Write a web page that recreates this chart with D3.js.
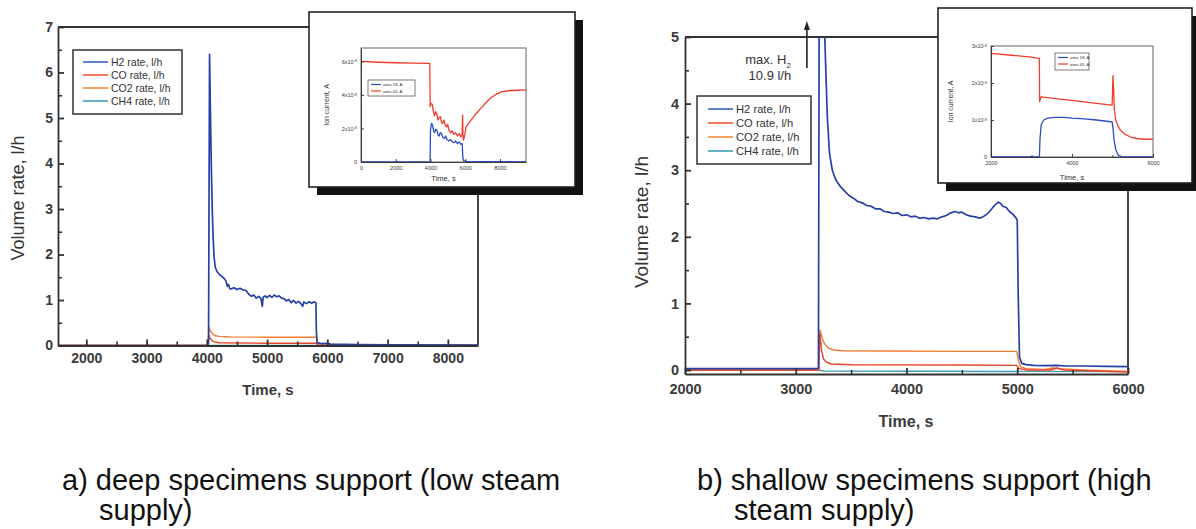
<!DOCTYPE html>
<html>
<head>
<meta charset="utf-8">
<script src="https://cdn.jsdelivr.net/npm/d3@7"></script>
<style>
  body { margin: 0; background: #fff; }
  svg { display: block; font-family: "Liberation Sans", Arial, sans-serif; }
</style>
</head>
<body>
<svg id="fig" width="1196" height="529"></svg>
<script>
// ---------------- data ----------------
// Gas release rates, l/h, versus time, s  (pairs: [time, rate])
const seriesNames  = ["H2 rate, l/h", "CO rate, l/h", "CO2 rate, l/h", "CH4 rate, l/h"];
const seriesColors = ["#2641a6", "#e8432b", "#f17d34", "#3c9fb4"];
const legendColors = ["#3d62c6", "#ee5a34", "#f28a3e", "#3ea3b2"];

// a) deep specimens support
const h2A = [[1530,0],[4000,0],[4028,0.05],[4045,6.4],[4060,5.1],[4075,3.9],[4090,3.0],[4105,2.35],[4120,1.95],[4140,1.72],
  [4170,1.62],[4210,1.56],[4250,1.52],[4290,1.47],[4320,1.41],[4340,1.30],[4360,1.34],[4380,1.25],[4400,1.24],[4450,1.27],
  [4500,1.23],[4550,1.26],[4600,1.22],[4650,1.21],[4700,1.12],[4740,1.08],[4780,1.11],[4820,1.04],[4860,1.08],[4900,1.03],
  [4920,0.86],[4935,1.06],[4970,1.09],[5000,1.05],[5040,1.10],[5080,1.06],[5120,1.11],[5160,1.07],[5200,1.09],[5240,1.04],
  [5280,1.03],[5320,0.98],[5360,1.01],[5400,0.94],[5440,0.99],[5480,0.93],[5520,0.97],[5560,0.92],[5590,0.86],[5610,0.96],
  [5650,0.92],[5700,0.96],[5740,0.93],[5780,0.96],[5810,0.94],[5818,0.30],[5830,0.06],[5900,0.04],[6000,0.05],[6050,0.03],
  [6500,0.02],[7000,0.015],[8500,0.01]];
const coA  = [[1530,0],[4020,0],[4035,0.22],[4060,0.15],[4100,0.09],[4200,0.06],[5000,0.05],[5820,0.05],[5840,0.01],[8500,0]];
const co2A = [[1530,0],[4020,0],[4035,0.40],[4060,0.32],[4090,0.26],[4130,0.22],[4200,0.20],[4400,0.19],[5000,0.18],
  [5820,0.18],[5835,0.06],[5900,0.03],[6200,0.02],[8500,0.0]];
const ch4A = [[1530,0],[8500,0]];

// b) shallow specimens support
const h2B = [[2000,0.02],[3190,0.02],[3205,0.03],[3218,10.9],[3240,7.4],[3262,5.0],[3285,3.8],[3305,3.25],[3330,3.0],
  [3360,2.86],[3400,2.76],[3440,2.69],[3480,2.62],[3520,2.58],[3560,2.53],[3600,2.51],[3640,2.47],[3680,2.46],[3720,2.42],
  [3760,2.42],[3800,2.38],[3840,2.37],[3880,2.35],[3920,2.36],[3960,2.32],[4000,2.33],[4040,2.30],[4080,2.31],[4120,2.28],
  [4160,2.29],[4200,2.27],[4240,2.28],[4280,2.27],[4320,2.30],[4360,2.32],[4400,2.36],[4440,2.38],[4470,2.36],[4500,2.37],
  [4540,2.33],[4580,2.31],[4620,2.30],[4660,2.28],[4700,2.31],[4740,2.36],[4770,2.42],[4800,2.48],[4830,2.52],[4850,2.50],
  [4870,2.46],[4900,2.44],[4930,2.38],[4960,2.34],[4990,2.28],[5000,2.25],[5008,1.2],[5020,0.2],[5040,0.10],[5080,0.08],
  [5150,0.07],[5250,0.065],[5350,0.07],[5450,0.06],[5600,0.06],[5800,0.055],[6000,0.05]];
const coB  = [[2000,0],[3208,0],[3218,0.55],[3232,0.30],[3250,0.17],[3275,0.12],[3320,0.09],[3500,0.08],[4500,0.075],
  [4995,0.07],[5015,0.02],[5100,0.0],[5300,0.0],[5360,0.03],[5420,0.0],[5800,-0.02],[6000,-0.03]];
const co2B = [[2000,0],[3208,0],[3218,0.60],[3240,0.47],[3265,0.38],[3295,0.33],[3340,0.30],[3420,0.29],[3800,0.285],
  [4500,0.28],[4995,0.28],[5010,0.15],[5030,0.05],[5080,0.02],[5250,0.01],[5320,0.03],[5380,0.02],[5600,0.0],[6000,-0.02]];
const ch4B = [[2000,0],[3200,0],[3260,-0.015],[6000,-0.025]];
const h2BPeakLabel = ["max. H", "2", "l/h"];

// Mass-spectrometer ion currents (units of 1e-8 A), pairs: [time, current]
const insetNames  = ["amu 18, A", "amu 40, A"];
const insetColors = ["#2b4fc2", "#f03c2c"];
const amu18A = [[0,0],[3980,0],[4000,1.9],[4060,2.3],[4120,2.2],[4180,1.85],[4240,1.75],[4300,1.95],[4370,1.9],[4440,1.6],
  [4500,1.55],[4560,1.75],[4640,1.7],[4720,1.45],[4800,1.4],[4870,1.55],[4950,1.35],[5050,1.25],[5150,1.35],[5250,1.2],
  [5350,1.15],[5450,1.25],[5550,1.1],[5650,1.2],[5750,1.05],[5830,1.1],[5860,0.3],[5900,0.08],[6100,0.03],[7000,0.02],[9500,0.01]];
const amu40A = [[0,6.0],[1000,5.95],[2000,5.92],[3000,5.9],[3960,5.88],[3985,3.3],[4030,3.5],[4100,3.45],[4170,3.0],
  [4230,2.75],[4300,3.0],[4370,2.85],[4430,2.5],[4500,2.65],[4570,2.7],[4640,2.35],[4700,2.3],[4780,2.5],[4850,2.2],
  [4920,2.1],[4990,2.25],[5060,1.9],[5150,1.75],[5250,1.85],[5350,1.65],[5450,1.75],[5550,1.55],[5650,1.7],[5750,1.5],
  [5820,1.6],[5850,2.8],[5870,1.6],[5900,1.3],[5960,1.55],[6050,2.1],[6300,2.45],[6600,2.85],[6900,3.2],[7200,3.55],
  [7500,3.85],[7800,4.05],[8100,4.2],[8500,4.25],[9000,4.28],[9500,4.3]];
const amu18B = [[2000,0],[3195,0],[3210,0.5],[3240,0.88],[3300,1.0],[3400,1.05],[3600,1.07],[3800,1.07],[4000,1.05],
  [4300,1.03],[4600,1.0],[4900,0.96],[4990,0.95],[5010,0.8],[5040,0.45],[5080,0.2],[5140,0.05],[5250,0],[6000,0]];
const amu40B = [[2000,2.8],[2500,2.75],[3000,2.7],[3195,2.66],[3200,1.5],[3215,1.55],[3240,1.63],[3300,1.62],[3600,1.58],
  [4000,1.53],[4500,1.46],[4990,1.4],[5000,1.7],[5010,2.2],[5025,1.9],[5045,1.3],[5080,1.0],[5130,0.85],[5200,0.72],
  [5300,0.62],[5450,0.54],[5600,0.5],[5800,0.48],[6000,0.48]];

// tick values
const xMajorA = [2000,3000,4000,5000,6000,7000,8000];
const xMinorA = [2500,3500,4500,5500,6500,7500];
const yMajorA = [0,1,2,3,4,5,6,7];
const yMinorA = [0.5,1.5,2.5,3.5,4.5,5.5,6.5];
const xMajorB = [2000,3000,4000,5000,6000];
const xMinorB = [2500,3500,4500,5500];
const yMajorB = [0,1,2,3,4,5];
const yMinorB = [0.5,1.5,2.5,3.5,4.5];
const insetXTicksA = [0,2000,4000,6000,8000];
const insetYTicksA = [0,2,4,6];
const insetXTicksB = [2000,4000,6000];
const insetXMinorB = [3000,5000];
const insetYTicksB = [0,1,2,3];

const captionA = ["a) deep specimens support (low steam", "supply)"];
const captionB = ["b) shallow specimens support (high", "steam supply)"];

// ---------------- drawing ----------------
const INK = "#333";
const fig = d3.select("#fig");
fig.append("rect").attr("width", 1196).attr("height", 529).attr("fill", "#fff");

function styleAxis(sel, width, fontSize, weight) {
  sel.selectAll("path, line").attr("stroke", INK).attr("stroke-width", width);
  sel.selectAll("text").attr("fill", "#3a3a3a").attr("font-size", fontSize)
     .attr("font-weight", weight).attr("font-family", "'Liberation Sans', Arial, sans-serif");
}

function mainPanel(cfg) {
  const g = fig.append("g");
  const x = d3.scaleLinear().domain(cfg.xDomain).range(cfg.xRange);
  const y = d3.scaleLinear().domain(cfg.yDomain).range(cfg.yRange);
  const [xl, xr] = cfg.xRange, [yb, yt] = cfg.yRange;

  // top and right frame
  g.append("path").attr("d", `M${xl},${yt}H${xr}V${yb}`)
    .attr("fill", "none").attr("stroke", INK).attr("stroke-width", 1.8);

  // curves
  const clipId = cfg.id + "-clip";
  g.append("clipPath").attr("id", clipId).append("rect")
    .attr("x", xl).attr("y", yt).attr("width", xr - xl).attr("height", yb - yt);
  const line = d3.line().x(d => x(d[0])).y(d => y(d[1]));
  const curves = g.append("g").attr("clip-path", `url(#${clipId})`);
  cfg.series.slice().reverse().forEach(s => {
    curves.append("path").datum(s.data).attr("d", line)
      .attr("fill", "none").attr("stroke", s.color).attr("stroke-width", s.width)
      .attr("stroke-linejoin", "round");
  });

  // axes with inward ticks
  const ax = g.append("g").attr("transform", `translate(0,${yb})`)
    .call(d3.axisBottom(x).tickValues(cfg.xMajor).tickSize(-6).tickSizeOuter(0)
      .tickPadding(cfg.xPad).tickFormat(d3.format("d")));
  styleAxis(ax, 1.8, cfg.tickFont, "bold");
  const axm = g.append("g").attr("transform", `translate(0,${yb})`)
    .call(d3.axisBottom(x).tickValues(cfg.xMinor).tickSize(-4).tickSizeOuter(0).tickFormat(""));
  axm.select(".domain").remove();
  styleAxis(axm, 1.6, cfg.tickFont, "bold");

  const ay = g.append("g").attr("transform", `translate(${xl},0)`)
    .call(d3.axisLeft(y).tickValues(cfg.yMajor).tickSize(-6).tickSizeOuter(0)
      .tickPadding(cfg.yPad).tickFormat(d3.format("d")));
  styleAxis(ay, 1.8, cfg.tickFont, "bold");
  const aym = g.append("g").attr("transform", `translate(${xl},0)`)
    .call(d3.axisLeft(y).tickValues(cfg.yMinor).tickSize(-4).tickSizeOuter(0).tickFormat(""));
  aym.select(".domain").remove();
  styleAxis(aym, 1.6, cfg.tickFont, "bold");

  // axis titles
  g.append("text").attr("x", cfg.xTitle[0]).attr("y", cfg.xTitle[1])
    .attr("text-anchor", "middle").attr("font-size", cfg.xTitleFont).attr("font-weight", "bold")
    .attr("fill", "#3a3a3a").text("Time, s");
  g.append("text").attr("transform", `translate(${cfg.yTitle[0]},${cfg.yTitle[1]}) rotate(-90)`)
    .attr("text-anchor", "middle").attr("font-size", cfg.yTitleFont)
    .attr("fill", "#333").text("Volume rate, l/h");

  // legend
  const L = cfg.legend;
  const lg = g.append("g");
  lg.append("rect").attr("x", L.x).attr("y", L.y).attr("width", L.w).attr("height", L.h)
    .attr("fill", "#fff").attr("stroke", INK).attr("stroke-width", 1.5);
  cfg.series.forEach((s, i) => {
    const yy = L.y + L.first + i * L.step;
    lg.append("line").attr("x1", L.x + L.pad).attr("x2", L.x + L.pad + L.len)
      .attr("y1", yy).attr("y2", yy).attr("stroke", s.legendColor).attr("stroke-width", 1.6);
    lg.append("text").attr("x", L.x + L.pad + L.len + 3).attr("y", yy).attr("dy", "0.35em")
      .attr("font-size", L.font).attr("fill", "#333").text(s.name);
  });
  return { g, x, y };
}

function inset(cfg) {
  const g = fig.append("g");
  const b = cfg.box;
  // drop shadow and card
  g.append("rect").attr("x", b.x + 8).attr("y", b.y + 8).attr("width", b.w).attr("height", b.h).attr("fill", "#111");
  g.append("rect").attr("x", b.x).attr("y", b.y).attr("width", b.w).attr("height", b.h)
    .attr("fill", "#fff").attr("stroke", "#222").attr("stroke-width", 1.6);

  const x = d3.scaleLinear().domain(cfg.xDomain).range(cfg.xRange);
  const y = d3.scaleLinear().domain(cfg.yDomain).range(cfg.yRange);
  const [xl, xr] = cfg.xRange, [yb, yt] = cfg.yRange;
  g.append("rect").attr("x", xl).attr("y", yt).attr("width", xr - xl).attr("height", yb - yt)
    .attr("fill", "none").attr("stroke", "#555").attr("stroke-width", 0.9);

  const line = d3.line().x(d => x(d[0])).y(d => y(d[1]));
  cfg.series.forEach(s => {
    g.append("path").datum(s.data).attr("d", line).attr("fill", "none")
      .attr("stroke", s.color).attr("stroke-width", 1.3).attr("stroke-linejoin", "round");
  });

  const ax = g.append("g").attr("transform", `translate(0,${yb})`)
    .call(d3.axisBottom(x).tickValues(cfg.xTicks).tickSize(-3).tickSizeOuter(0).tickPadding(4).tickFormat(d3.format("d")));
  styleAxis(ax, 0.9, 5.5, "normal");
  if (cfg.xMinor) {
    const axm = g.append("g").attr("transform", `translate(0,${yb})`)
      .call(d3.axisBottom(x).tickValues(cfg.xMinor).tickSize(-2).tickSizeOuter(0).tickFormat(""));
    axm.select(".domain").remove();
    styleAxis(axm, 0.9, 5.5, "normal");
  }
  const ay = g.append("g").attr("transform", `translate(${xl},0)`)
    .call(d3.axisLeft(y).tickValues(cfg.yTicks).tickSize(-3).tickSizeOuter(0).tickPadding(3).tickFormat(""));
  styleAxis(ay, 0.9, 5.5, "normal");
  ay.selectAll(".tick").each(function(d) {
    const t = d3.select(this).append("text").attr("x", -4).attr("dy", "0.32em")
      .attr("text-anchor", "end").attr("font-size", 5.5).attr("fill", "#3a3a3a");
    if (d === 0) { t.text("0"); return; }
    t.append("tspan").text(d + "x10");
    t.append("tspan").attr("dy", "-0.45em").attr("font-size", 3.8).text("-8");
  });

  g.append("text").attr("x", (xl + xr) / 2).attr("y", cfg.xTitleY).attr("text-anchor", "middle")
    .attr("font-size", 7.5).attr("fill", "#333").text("Time, s");
  g.append("text").attr("transform", `translate(${cfg.yTitleX},${(yb + yt) / 2}) rotate(-90)`)
    .attr("text-anchor", "middle").attr("font-size", 7).attr("fill", "#333").text("Ion current, A");

  const L = cfg.legend;
  g.append("rect").attr("x", L.x).attr("y", L.y).attr("width", L.w).attr("height", L.h)
    .attr("fill", "#fff").attr("stroke", "#444").attr("stroke-width", 0.7);
  cfg.series.forEach((s, i) => {
    const yy = L.y + 4.5 + i * 6.5;
    g.append("line").attr("x1", L.x + 3).attr("x2", L.x + 13).attr("y1", yy).attr("y2", yy)
      .attr("stroke", s.color).attr("stroke-width", 1.2);
    g.append("text").attr("x", L.x + 15).attr("y", yy).attr("dy", "0.35em")
      .attr("font-size", 4.3).attr("fill", "#333").text(s.name);
  });
}

function mkSeries(datas) {
  return datas.map((d, i) => ({
    name: seriesNames[i], data: d, color: seriesColors[i], legendColor: legendColors[i],
    width: i === 0 ? 1.7 : 1.4
  }));
}

// ---- panel a ----
const pA = mainPanel({
  id: "pa", xDomain: [1530, 8500], xRange: [58, 478], yDomain: [0, 7], yRange: [345.5, 27],
  xMajor: xMajorA, xMinor: xMinorA, yMajor: yMajorA, yMinor: yMinorA,
  xPad: 8, yPad: 5, tickFont: 14, xTitle: [268, 395], xTitleFont: 15, yTitle: [24, 198], yTitleFont: 18,
  series: mkSeries([h2A, coA, co2A, ch4A]),
  legend: { x: 73, y: 50, w: 109, h: 64, first: 12, step: 13, pad: 10, len: 25, font: 10.5 }
});

inset({
  box: { x: 309, y: 12, w: 266, h: 175 },
  xDomain: [0, 9500], xRange: [361, 526], yDomain: [0, 6.8], yRange: [162, 48],
  xTicks: insetXTicksA, yTicks: insetYTicksA, xTitleY: 181, yTitleX: 329,
  series: [{ name: insetNames[0], data: amu18A, color: insetColors[0] },
           { name: insetNames[1], data: amu40A, color: insetColors[1] }],
  legend: { x: 368, y: 80, w: 47, h: 16 }
});

// ---- panel b ----
const pB = mainPanel({
  id: "pb", xDomain: [2000, 6000], xRange: [685, 1128], yDomain: [-0.06, 5], yRange: [374, 37],
  xMajor: xMajorB, xMinor: xMinorB, yMajor: yMajorB, yMinor: yMinorB,
  xPad: 10, yPad: 6, tickFont: 14.5, xTitle: [906, 427], xTitleFont: 16, yTitle: [648, 222], yTitleFont: 19,
  series: mkSeries([h2B, coB, co2B, ch4B]),
  legend: { x: 697, y: 96, w: 114, h: 68, first: 13, step: 14, pad: 11, len: 25, font: 11.2 }
});

inset({
  box: { x: 938, y: 8, w: 254, h: 175 },
  xDomain: [2000, 6000], xRange: [991, 1153], yDomain: [0, 3], yRange: [157, 46],
  xTicks: insetXTicksB, xMinor: insetXMinorB, yTicks: insetYTicksB, xTitleY: 180, yTitleX: 953,
  series: [{ name: insetNames[0], data: amu18B, color: insetColors[0] },
           { name: insetNames[1], data: amu40B, color: insetColors[1] }],
  legend: { x: 1055, y: 53, w: 34, h: 17 }
});

// off-scale H2 peak annotation (panel b)
const peak = h2B.reduce((a, d) => d[1] > a[1] ? d : a);
const arrowX = pB.x(peak[0]) - 13;
const ann = fig.append("g");
ann.append("line").attr("x1", arrowX).attr("x2", arrowX).attr("y1", 68).attr("y2", 28)
  .attr("stroke", "#222").attr("stroke-width", 1.6);
ann.append("path").attr("d", `M${arrowX},21L${arrowX - 3},30L${arrowX + 3},30Z`).attr("fill", "#222");
const t1 = ann.append("text").attr("x", arrowX - 16).attr("y", 64).attr("text-anchor", "end")
  .attr("font-size", 13).attr("fill", "#333");
t1.append("tspan").text(h2BPeakLabel[0]);
t1.append("tspan").attr("dy", 4).attr("font-size", 8).text(h2BPeakLabel[1]);
ann.append("text").attr("x", arrowX - 37).attr("y", 80).attr("text-anchor", "middle")
  .attr("font-size", 13).attr("fill", "#333").text(peak[1] + " " + h2BPeakLabel[2]);

// captions
function caption(lines, x, y) {
  const c = fig.append("text").attr("font-size", 29).attr("fill", "#111");
  c.append("tspan").attr("x", x).attr("y", y).text(lines[0]);
  c.append("tspan").attr("x", x + 37).attr("y", y + 30).text(lines[1]);
}
caption(captionA, 62, 490);
caption(captionB, 697, 490);
</script>
</body>
</html>
